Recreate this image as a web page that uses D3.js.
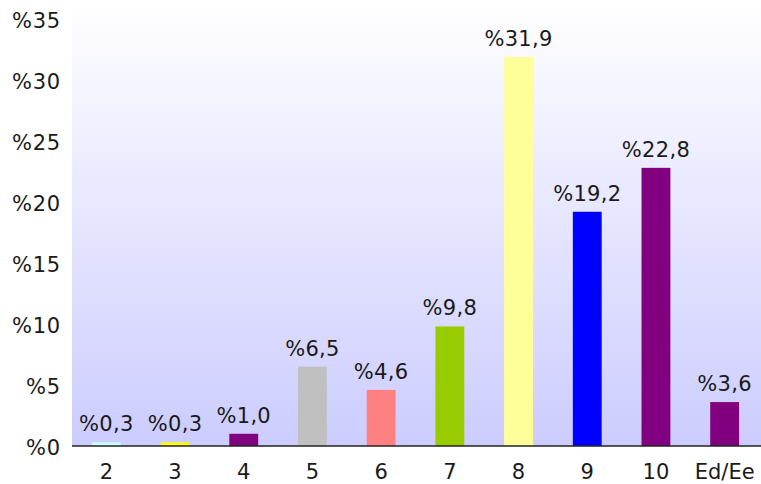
<!DOCTYPE html>
<html><head><meta charset="utf-8">
<script src="https://cdn.jsdelivr.net/npm/d3@7"></script>
<style>html,body{margin:0;padding:0;background:#fff;}svg{display:block;}</style>
</head><body><svg id="c" width="761" height="484"></svg>
<script>
const categories = ["2","3","4","5","6","7","8","9","10","Ed/Ee"];
const values = [0.3, 0.3, 1.0, 6.5, 4.6, 9.8, 31.9, 19.2, 22.8, 3.6];
const labels = ["%0,3","%0,3","%1,0","%6,5","%4,6","%9,8","%31,9","%19,2","%22,8","%3,6"];
const colors = ["#ccffff","#ffff00","#800080","#c0c0c0","#ff8080","#99cc00","#ffff99","#0000ff","#800080","#800080"];
const yTicks = [0,5,10,15,20,25,30,35];

(function(){
const svg = d3.select("#c");
const mLeft = 72, mRight = 759, mTop = 19, mBottom = 446;
const font = "'DejaVu Sans', Verdana, sans-serif";

const defs = svg.append("defs");
const g = defs.append("linearGradient").attr("id","bg").attr("x1",0).attr("y1",0).attr("x2",0).attr("y2",1);
g.append("stop").attr("offset","0").attr("stop-color","#ffffff");
g.append("stop").attr("offset","1").attr("stop-color","#ccccff");

svg.append("rect").attr("x",mLeft).attr("y",0).attr("width",761-mLeft).attr("height",mBottom).attr("fill","url(#bg)");

const x = d3.scaleBand().domain(categories).range([mLeft,mRight]).paddingInner(0.58).paddingOuter(0.29);
const y = d3.scaleLinear().domain([0,35]).range([mBottom,mTop]);

svg.selectAll(".bar").data(values).join("rect")
  .attr("x",(d,i)=>x(categories[i]))
  .attr("width",x.bandwidth())
  .attr("y",d=>y(d))
  .attr("height",d=>y(0)-y(d))
  .attr("fill",(d,i)=>colors[i]);

svg.selectAll(".vl").data(values).join("text")
  .attr("x",(d,i)=>x(categories[i])+x.bandwidth()/2)
  .attr("y",d=>y(d)-11)
  .attr("text-anchor","middle")
  .attr("font-family",font).attr("font-size",21).attr("letter-spacing",0.3)
  .attr("fill","#1a1a1a")
  .text((d,i)=>labels[i]);

const yAxis = svg.append("g").attr("transform",`translate(${mLeft},0)`)
  .call(d3.axisLeft(y).tickValues(yTicks).tickSize(0).tickPadding(11).tickFormat(d=>"%"+d));
yAxis.select(".domain").remove();
yAxis.selectAll("text").attr("font-family",font).attr("font-size",21).attr("letter-spacing",0.8).attr("dy","0.4em").attr("fill","#1a1a1a");

const xAxis = svg.append("g").attr("transform",`translate(0,${mBottom})`)
  .call(d3.axisBottom(x).tickSize(0).tickPadding(18));
xAxis.select(".domain").attr("stroke","#222").attr("stroke-width",1.5).attr("d",`M${mLeft},0H761`);
xAxis.selectAll("text").attr("font-family",font).attr("font-size",21).attr("fill","#1a1a1a");
})();
</script></body></html>
